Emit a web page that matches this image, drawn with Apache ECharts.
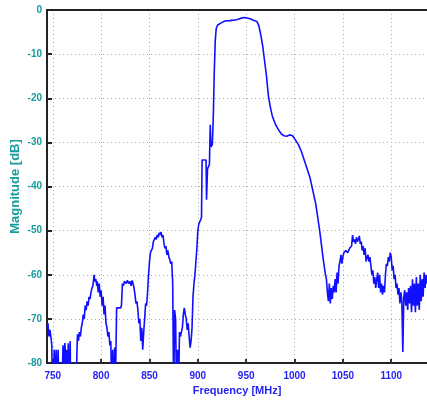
<!DOCTYPE html>
<html><head><meta charset="utf-8">
<script src="https://cdn.jsdelivr.net/npm/echarts@6/dist/echarts.min.js"></script>
<style>html,body{margin:0;padding:0;background:#fff}#c{width:427px;height:406px}</style>
</head><body><div id="c"></div>
<script>
const freqMHz = [
744,745,746,747,748,749,749.5,751,751.5,752.5,753.5,754.5,755.5,756.5,759.5,760.5,761.5,762.5,763.5,764.5,765,766,767,768,768.5,
774,775,775.5,776.5,777.5,778.5,779.5,780.5,781.5,782.5,783.5,784.5,785.5,786.5,787.5,788.5,789.5,790.5,791.5,792.7,793.5,794.5,795.5,796,797,798,799,800,
801,802,803,804,805,806,807,808,809,810,811,812,813,814,815,816,820,821,822,823,824,826,827,829,830,831,832,833,834,835,836,837,838,839,840,
841,842,843,844,845,846,847,848,849,850,851,852,853,854,855,856,857,858,859,860,861,862,863,864,865,866,867,868,869,870,
871,872,873,874,875,876,877,878,879,880,881,882,883,884,885,886,887,888,889,890,891,892,893,894,895,896,897,898,899,900,
901,902,903,903.8,904.4,908.5,909,910,911,912,912.8,913.5,915,916,917,918,919,920.5,922,925,928,933,937,940,944,948,951,954,958,961,
963,965,967,969,971,973,975,977,980,983,986,989,992,995,998,1001,1004,1007,1010,1013,1016,1019,1022,1024,1026,1028,1030,1032,
1033,1034,1035,1036,1037,1038,1039,1040,1041,1042,1043,1044,1045,1046,1047,1048,1049,1050,1051,1053,1055,1057,1059,1060,
1061,1062,1063,1064,1065,1066,1067,1068,1069,1070,1071,1072,1073,1074,1075,1076,1077,1078,1079,1080,
1081,1082,1083,1084,1085,1086,1087,1088,1089,1090,1091,1092,1093,1094,1095,1096,1097,1098,1099,1100,
1101,1102,1103,1104,1105,1106,1107,1108,1109,1110,1111,1112,1113,1114,1115,1116,1117,1118,1119,1120,
1121,1122,1123,1124,1125,1126,1127,1128,1129,1130,1131,1132,1133,1134,1135,1136,1137
];
const magnitudeDb = [
-72,-71,-74,-72.5,-74,-76,-88,-88,-77,-86,-77,-88,-77,-88,-88,-76,-81,-75.5,-80,-77,-88,-75.5,-88,-75,-88,
-88,-77,-73.5,-75,-73,-74,-72,-71,-69,-70,-67,-68,-66,-67,-65,-65.5,-64,-63,-62.5,-60,-61.5,-61,-62.5,-61.5,-64,-62,-65,-63.5,
-67,-65,-69,-67,-71,-72,-74,-73,-76,-75,-88,-77,-88,-76.5,-82,-67.5,-67.5,-67,-62,-62.5,-61.5,-62,-61.3,-62,-61.5,-62.5,-61.3,-62,-63,-64.5,-66.5,-66,-68,-71,-70,
-75,-72,-77,-73,-70,-66.5,-67,-64,-60,-57,-55,-54.5,-54,-52.5,-52,-51.5,-52,-51,-51.5,-50.5,-51,-50.3,-51.5,-51,-53,-54,-53.5,-55.5,-54.5,-56,
-56.5,-57.5,-57,-62,-88,-68,-70,-88,-77,-88,-73,-74,-73,-72,-69,-67.5,-69,-70,-72.5,-71,-74,-76.5,-75,-72,-65,-62,-60,-57,-54,-50,
-48.5,-48,-47.5,-47,-34,-34,-43,-36,-35.5,-35,-26,-31,-30.5,-24,-14,-7,-4.2,-3.4,-3.0,-2.8,-2.5,-2.4,-2.3,-2.2,-1.9,-1.7,-1.8,-2.0,-2.4,-2.6,
-3.5,-5.5,-8,-11.5,-15,-19.5,-22,-24,-25.8,-27,-28,-28.5,-28.6,-28.3,-28.5,-29.5,-30.5,-32,-34,-36,-38,-41,-44,-47,-50,-53.5,-57,-60,
-61,-64,-66,-62,-66.5,-63,-65.5,-62.5,-64,-61,-64,-59.5,-62,-58,-57,-55.5,-57.5,-56,-55,-54.5,-55,-54,-53.5,-51,
-52.5,-52,-53,-51.5,-52.5,-52,-51.2,-53,-52.5,-54.5,-53.5,-55.5,-54,-57,-56,-55.5,-57,-56,-58,-60,
-59,-62,-60.5,-63,-61,-59.5,-63,-60,-64,-62,-64.5,-62.5,-64,-60,-57.5,-58,-56,-57,-55,-56,
-59,-58,-61,-60,-63,-62,-64.5,-63,-66.5,-64,-66,-77.5,-65,-63.5,-67,-64,-68,-63,-66.5,-62.5,
-68.5,-61,-67,-62,-68.5,-60.5,-67,-62,-68,-60,-66,-61,-65,-59.5,-63,-60,-62
];
const xTickValues = [750, 800, 850, 900, 950, 1000, 1050, 1100];
const xRange = [744, 1137];
const yRange = [-80, 0];
const yStep = 10;

const seriesData = freqMHz.map((f, i) => [f, magnitudeDb[i]]);
const chart = echarts.init(document.getElementById('c'), null, {renderer: 'canvas'});
const teal = '#179a9a';
const blue = '#2424f0';
const font = 'Liberation Sans, Arial, sans-serif';
chart.setOption({
  animation: false,
  backgroundColor: '#ffffff',
  grid: {left: 47, right: 0, top: 10, bottom: 43, containLabel: false, outerBoundsMode: 'none'},
  xAxis: [{
    type: 'value', min: xRange[0], max: xRange[1],
    name: 'Frequency [MHz]', nameLocation: 'middle', nameGap: 22, nameMoveOverlap: false,
    nameTextStyle: {color: blue, fontSize: 11, fontWeight: 'bold', fontFamily: font},
    axisLine: {show: true, onZero: false, lineStyle: {color: '#222', width: 2}},
    axisTick: {show: true, inside: true, length: 4, lineStyle: {color: '#333', width: 2}, customValues: xTickValues},
    axisLabel: {color: blue, fontSize: 10, fontWeight: 'bold', fontFamily: font, margin: 8, customValues: xTickValues,
      formatter: v => String(v)},
    splitLine: {show: true, lineStyle: {color: '#aaa', type: [1, 3], width: 1}}
  }, {
    type: 'value', position: 'top', min: xRange[0], max: xRange[1],
    axisLine: {show: true, onZero: false, lineStyle: {color: '#222', width: 2}},
    axisTick: {show: false}, axisLabel: {show: false}, splitLine: {show: false}
  }],
  yAxis: {
    type: 'value', min: yRange[0], max: yRange[1], interval: yStep,
    name: 'Magnitude [dB]', nameLocation: 'middle', nameGap: 25, nameRotate: 90, nameMoveOverlap: false,
    nameTextStyle: {color: teal, fontSize: 13, fontWeight: 'bold', fontFamily: font},
    axisLine: {show: true, onZero: false, lineStyle: {color: '#222', width: 2}},
    axisTick: {show: true, inside: true, length: 5, lineStyle: {color: '#222', width: 2}},
    axisLabel: {color: teal, fontSize: 10, fontWeight: 'bold', fontFamily: font, margin: 5,
      formatter: v => String(v)},
    splitLine: {show: true, lineStyle: {color: '#aaa', type: [1, 3], width: 1}}
  },
  series: [{
    type: 'line', xAxisIndex: 0, data: seriesData, showSymbol: false, clip: true,
    lineStyle: {color: '#1010ff', width: 1.6}, silent: true
  }]
});
</script></body></html>
